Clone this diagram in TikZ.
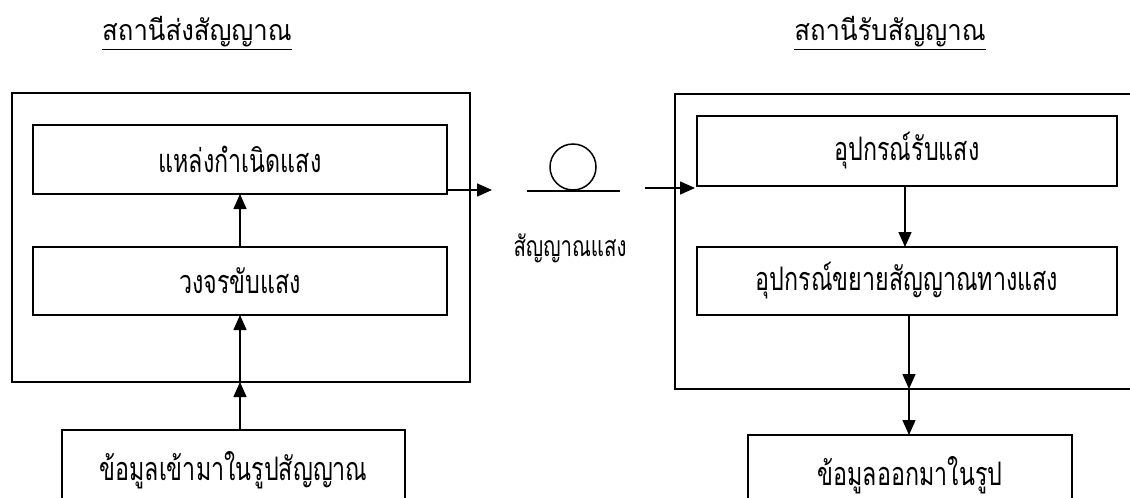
\documentclass[tikz,border=0pt]{standalone}
\usepackage{fontspec}
\usepackage{graphicx}
\newfontfamily\thaifont[Script=Thai]{Loma}
\newcommand\thtxt[1]{\scalebox{0.97}[1.35]{#1}}
\newcommand\tttxt[1]{\scalebox{1.17}[1.3]{#1}}
\usetikzlibrary{arrows.meta}
\begin{document}
\begin{tikzpicture}[x=1pt,y=-1pt,
  every node/.style={inner sep=0pt,outer sep=0pt},
  frame/.style={draw,line width=1.8pt},
  box/.style={draw,line width=1.8pt,font=\thaifont\fontsize{24}{28}\selectfont},
  lbl/.style={font=\thaifont\fontsize{21}{25}\selectfont},
  ttl/.style={font=\thaifont\fontsize{22}{26}\selectfont},
  conn/.style={line width=1.5pt,-{Triangle[length=15pt,width=13pt]}}
]
\useasboundingbox (0,0) rectangle (1130,498);
\clip (0,0) rectangle (1130,498);
% frames
\node[frame,minimum width=458pt,minimum height=289pt] (Lbig) at (241,237.5) {};
\node[frame,minimum width=470pt,minimum height=295pt] (Rbig) at (910,241.5) {};
% left boxes
\node[box,minimum width=414pt,minimum height=69pt] (Lsrc) at (240,159.5) {\thtxt{แหล่งกำเนิดแสง}};
\node[box,minimum width=414pt,minimum height=68pt] (Ldrv) at (240,281) {\thtxt{วงจรขับแสง}};
\node[box,minimum width=343pt,minimum height=80pt] (Lin) at (233.5,470) {\thtxt{ข้อมูลเข้ามาในรูปสัญญาณ}};
% right boxes
\node[box,minimum width=420pt,minimum height=70pt] (Rdet) at (907,151) {\thtxt{อุปกรณ์รับแสง}};
\node[box,minimum width=420pt,minimum height=68pt] (Ramp) at (907,281) {\thtxt{อุปกรณ์ขยายสัญญาณทางแสง}};
\node[box,minimum width=324pt,minimum height=80pt] (Rout) at (910,475) {\thtxt{ข้อมูลออกมาในรูป}};
% titles
\node[ttl] (T1) at (197,33) {\tttxt{\underline{สถานีส่งสัญญาณ}}};
\node[ttl] (T2) at (890,33) {\tttxt{\underline{สถานีรับสัญญาณ}}};
% fiber
\node[draw,circle,line width=1.5pt,minimum size=46pt] (coil) at (573,167) {};
\coordinate (fa) at (527,191);
\coordinate (fb) at (620,191);
\draw[line width=1.5pt] (fa) -- (fb);
\node[lbl] (sig) at (570,248) {\thtxt{สัญญาณแสง}};
% connectors
\coordinate (Lout) at (447,190);
\coordinate (Ltip) at (492,190);
\draw[conn] (Lout) -- (Ltip);
\coordinate (Rs) at (645,188);
\coordinate (Rtip) at (695,188);
\draw[conn] (Rs) -- (Rtip);
\draw[conn] (Ldrv.north) -- (Lsrc.south);
\coordinate (Lb) at (240,382);
\draw[conn] (Lin.north -| Lb) -- (Lb);
\draw[conn] (Lb) -- (Ldrv.south -| Lb);
\coordinate (Rm) at (905,0);
\draw[conn] (Rdet.south -| Rm) -- (Ramp.north -| Rm);
\coordinate (Rb) at (909,389);
\draw[conn] (Ramp.south -| Rb) -- (Rb);
\draw[conn] (Rb) -- (Rout.north -| Rb);
\end{tikzpicture}
\end{document}
